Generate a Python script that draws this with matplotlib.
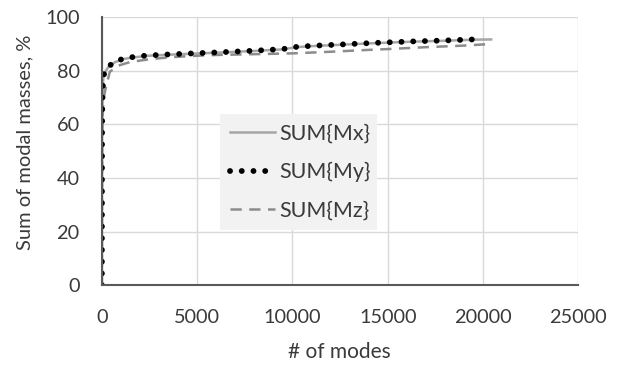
import matplotlib.pyplot as plt
from matplotlib.lines import Line2D

# values
modes_x = [0, 5, 10, 20, 40, 70, 150, 330, 680, 1200, 1800, 2400, 3500, 4800,
           6500, 8000, 9500, 10200, 11000, 12500, 14000, 15000, 16500, 18000,
           19500, 20500]
sum_mx = [0, 28, 52, 63, 71, 77.0, 79.2, 81.2, 83.1, 84.4, 85.0, 85.5, 85.9, 86.3,
          86.8, 87.3, 87.9, 88.7, 89.1, 89.6, 90.1, 90.4, 90.8, 91.1, 91.5, 91.6]

modes_y = [0, 5, 10, 20, 40, 70, 150, 330, 680, 1200, 1800, 2400, 3500, 4800,
           6500, 8000, 9500, 10200, 11000, 12500, 14000, 15000, 16500, 18000,
           19500, 20000]
sum_my = [0, 30, 55, 65, 72, 77.5, 79.5, 81.4, 83.3, 84.6, 85.2, 85.6, 86.0, 86.4,
          86.9, 87.4, 88.0, 88.8, 89.2, 89.7, 90.2, 90.5, 90.9, 91.2, 91.6, 91.7]

modes_z = [0, 5, 10, 20, 40, 80, 200, 420, 940, 1500, 2500, 3500, 4600, 6000,
           8000, 10000, 12000, 14000, 15000, 17000, 19000, 20200]
sum_mz = [0, 20, 40, 55, 63, 69, 73.5, 79.6, 82, 83.2, 84.2, 84.9, 85.4, 85.8,
          86.1, 86.4, 87.0, 87.7, 88.0, 88.7, 89.3, 89.8]

xticks = [0, 5000, 10000, 15000, 20000, 25000]
yticks = [0, 20, 40, 60, 80, 100]

plt.rcParams['font.family'] = ['Lato', 'DejaVu Sans']
txt = '#3a3a3a'
fs = 14.3

dots = (0, (0.01, 2.0))
dashes = (0, (4.5, 3.0))

fig = plt.figure(figsize=(6.25, 3.67), dpi=100)
ax = fig.add_axes([0.163, 0.223, 0.762, 0.731])

ax.plot(modes_x, sum_mx, color='#a6a6a6', lw=1.8, solid_capstyle='butt')
ax.plot(modes_z, sum_mz, color='#8c8c8c', lw=1.8, linestyle=dashes)
ax.plot(modes_y, sum_my, color='black', lw=4.2, linestyle=dots,
        dash_capstyle='round')

ax.set_xlim(0, 25000)
ax.set_ylim(0, 100)
ax.set_xticks(xticks)
ax.set_yticks(yticks)
ax.tick_params(length=0, labelsize=fs, labelcolor=txt)
ax.tick_params(axis='x', pad=17)
ax.tick_params(axis='y', pad=16)
ax.grid(color='#d9d9d9', lw=1)
ax.set_axisbelow(True)
for s in ['top', 'right']:
    ax.spines[s].set_visible(False)
for s in ['left', 'bottom']:
    ax.spines[s].set_color('#595959')
    ax.spines[s].set_linewidth(1.5)

fig.text(0.5424, 0.041, '# of modes', fontsize=15, color=txt,
         ha='center', va='center')
fig.text(0.04, 0.613, 'Sum of modal masses, %', fontsize=14.5, color=txt,
         ha='center', va='center', rotation=90)

handles = [
    Line2D([], [], color='#a6a6a6', lw=1.8),
    Line2D([], [], color='black', lw=4.2, linestyle=dots, dash_capstyle='round'),
    Line2D([], [], color='#8c8c8c', lw=1.8, linestyle=dashes),
]
leg = ax.legend(handles, ['SUM{Mx}', 'SUM{My}', 'SUM{Mz}'],
                loc='lower left', bbox_to_anchor=(0.248, 0.205, 0.33, 0.43),
                mode='expand', fontsize=15.5, frameon=True, fancybox=False,
                facecolor='#f2f2f2', edgecolor='none', framealpha=1,
                handlelength=2.1, handletextpad=0.2, labelspacing=0.85,
                borderpad=0.45, borderaxespad=0)
for t in leg.get_texts():
    t.set_color(txt)

fig.savefig('out.png', dpi=100)
